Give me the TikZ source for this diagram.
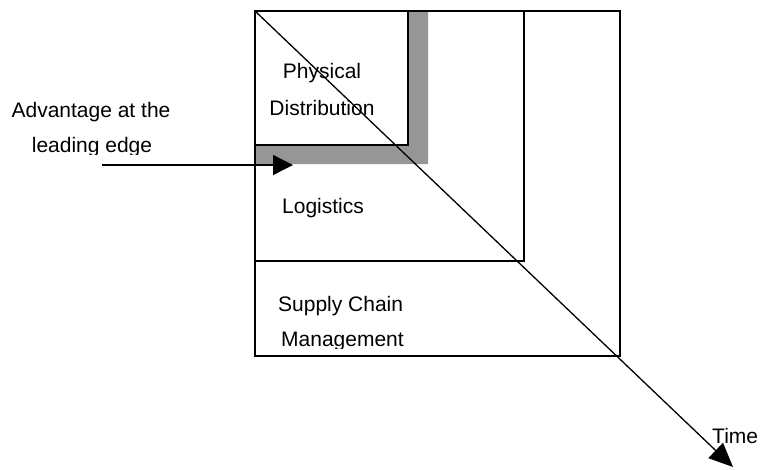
\documentclass[tikz,border=0pt]{standalone}
\usepackage{fontspec}
\setmainfont{Liberation Sans}
\usetikzlibrary{arrows.meta}
\definecolor{bandgray}{RGB}{150,150,150}
\tikzset{
  boxline/.style={draw=black, line width=1.5pt},
  lbl/.style={inner sep=0pt, font=\fontsize{21}{24}\selectfont},
  bigarrow/.style={line width=1.3pt, -{Triangle[length=20pt,width=20pt]}},
}
\begin{document}
\begin{tikzpicture}[x=1pt,y=-1pt]
\useasboundingbox (0,0) rectangle (760,469);
% gray band
\fill[bandgray] (408,11) -- (428,11) -- (428,164) -- (255,164) -- (255,145) -- (408,145) -- cycle;
% boxes
\coordinate (scmTL) at (255,11);
\coordinate (scmBR) at (620,356);
\coordinate (logBR) at (524,261);
\coordinate (pdBR) at (408,145);
\draw[boxline] (scmTL) rectangle (scmBR);
\draw[boxline] (scmTL) rectangle (logBR);
\draw[boxline] (scmTL) rectangle (pdBR);
% labels
\node[lbl, anchor=base] (phys) at (322,78) {Physical};
\node[lbl, anchor=base] (dist) at (322,115) {Distribution};
\node[lbl, anchor=base west] (logi) at (282,213) {Logistics};
\node[lbl, anchor=base west] (supp) at (278,311) {Supply Chain};
\begin{scope}
\clip (260,320) rectangle (500,348);
\node[lbl, anchor=base west] (mgmt) at (281,346) {Management};
\end{scope}
\node[lbl, anchor=base] (adv) at (91,117) {Advantage at the};
\begin{scope}
\clip (0,130) rectangle (250,154.5);
\node[lbl, anchor=base] (lead) at (92,152) {leading edge};
\end{scope}
\node[lbl, anchor=base west] (time) at (712,443) {Time};
% arrows
\coordinate (edgeStart) at (102,165);
\coordinate (edgeEnd) at (293,165);
\draw[bigarrow] (edgeStart) -- (edgeEnd);
\coordinate (timeEnd) at (733,467);
\draw[line width=1.3pt, -{Triangle[length=24pt,width=21pt]}] (scmTL) -- (timeEnd);
\end{tikzpicture}
\end{document}
